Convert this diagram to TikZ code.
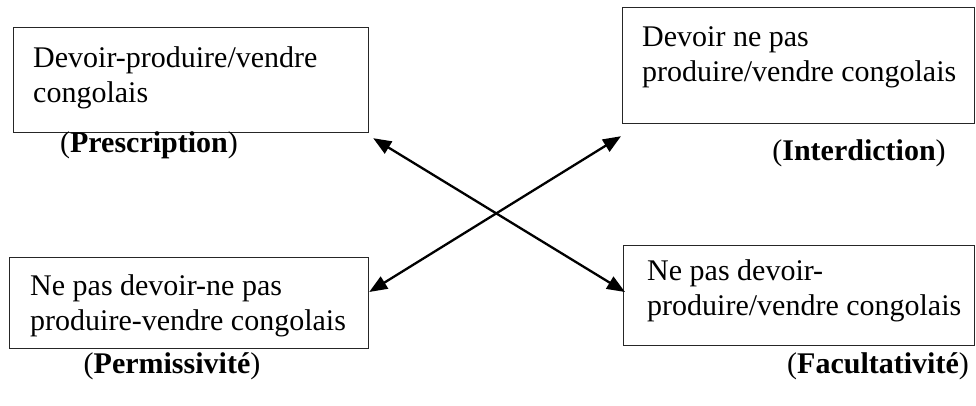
\documentclass[tikz,border=0pt]{standalone}
\usepackage{fontspec}
\setmainfont{Liberation Serif}
\usetikzlibrary{arrows.meta,calc}
\begin{document}
\begin{tikzpicture}[x=1pt,y=-1pt,
  box/.style={draw=black!85,line width=1.2pt,anchor=north west,inner sep=0pt},
  txt/.style={anchor=north west,inner sep=0pt,align=left,font=\fontsize{30}{35}\selectfont},
  lab/.style={anchor=base,inner sep=0pt,font=\fontsize{30}{35}\selectfont},
  link/.style={line width=2.3pt,{Triangle[length=18pt,width=14pt]}-{Triangle[length=18pt,width=14pt]}}]
\useasboundingbox (0,0) rectangle (976,405);
% boxes
\node[box,minimum width=355pt,minimum height=105pt] (tl) at (13,27) {};
\node[box,minimum width=352pt,minimum height=116pt] (tr) at (622,7) {};
\node[box,minimum width=359pt,minimum height=91pt] (bl) at (9,257) {};
\node[box,minimum width=351pt,minimum height=100pt] (br) at (623,245) {};
% texts
\node[txt] (tltxt) at (33,46.5) {Devoir-produire/vendre\\congolais};
\node[txt] (trtxt) at (642,26.5) {Devoir ne pas\\produire/vendre congolais};
\node[txt] (bltxt) at (30,274.5) {Ne pas devoir-ne pas\\produire-vendre congolais};
\node[txt] (brtxt) at (647,259.5) {Ne pas devoir-\\produire/vendre congolais};
% labels
\node[lab] (ltl) at (149,152) {(\textbf{Prescription})};
\node[lab] (ltr) at (859,160) {(\textbf{Interdiction})};
\node[lab] (lbl) at (172,373) {(\textbf{Permissivité})};
\node[lab] (lbr) at (878,373) {(\textbf{Facultativité})};
% arrows
\draw[link] ($(tl.south east)+(4,5)$) -- ($(br.north west)+(2,47)$);
\draw[link] ($(bl.north east)+(0,35)$) -- ($(tr.south west)+(-1,12)$);
\end{tikzpicture}
\end{document}
